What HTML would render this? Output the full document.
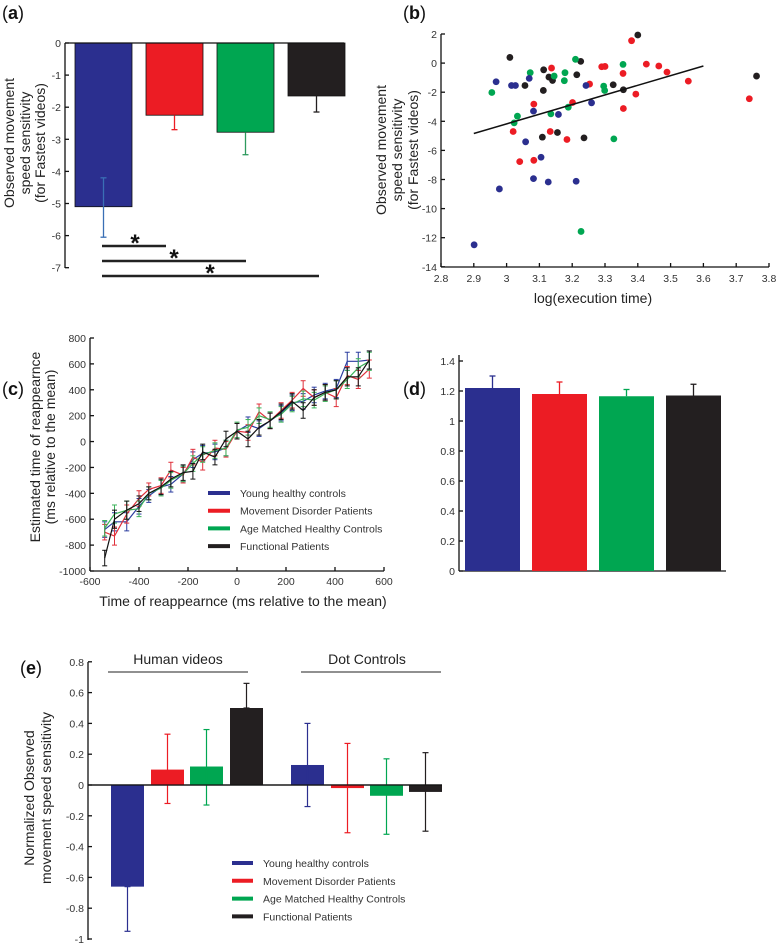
<!DOCTYPE html>
<html><head><meta charset="utf-8"><style>
body{margin:0;background:#fff}
svg{display:block;font-family:"Liberation Sans",sans-serif}
.tk{font-size:10.5px;fill:#333}
.tt{font-size:14px;fill:#222}
.pl{font-size:18px;fill:#111}
</style></head><body>
<svg id="fig" width="778" height="945" viewBox="0 0 778 945">
<text class="pl" x="2" y="19">(<tspan font-weight="bold">a</tspan>)</text>
<text class="pl" x="403" y="19">(<tspan font-weight="bold">b</tspan>)</text>
<text class="pl" x="2" y="395">(<tspan font-weight="bold">c</tspan>)</text>
<text class="pl" x="403" y="395">(<tspan font-weight="bold">d</tspan>)</text>
<text class="pl" x="20" y="674">(<tspan font-weight="bold">e</tspan>)</text>
<g id="ga"></g><g id="gb"></g><g id="gc"></g><g id="gd"></g><g id="ge"></g>
</svg>
<script>
const COLORS=['#2b2f8f','#ec1c24','#00a651','#231f20'];
const groupNames=['Young healthy controls','Movement Disorder Patients','Age Matched Healthy Controls','Functional Patients'];
// Panel a
const aValues=[-5.1,-2.25,-2.78,-1.65];
const aErrEnd=[-4.2,-2.7,-3.48,-2.15];
const aErrEnd2=[-6.05,null,null,null];
const aTicks=[0,-1,-2,-3,-4,-5,-6,-7];
// Panel b
const bBlackX=[3.01,3.40,3.113,3.226,3.129,3.14,3.056,3.112,3.214,3.325,3.356,3.762,3.109,3.155,3.236];
const bBlackY=[0.39,1.93,-0.46,0.12,-0.96,-1.19,-1.54,-1.88,-0.80,-1.49,-1.83,-0.89,-5.09,-4.77,-5.14];
const bRedX=[3.381,3.137,3.29,3.30,3.426,3.464,3.489,3.355,3.253,3.554,3.394,3.201,3.083,3.356,3.740,3.02,3.133,3.184,3.04,3.083];
const bRedY=[1.54,-0.34,-0.25,-0.23,-0.07,-0.20,-0.62,-0.71,-1.44,-1.24,-2.13,-2.71,-2.82,-3.12,-2.45,-4.70,-4.70,-5.25,-6.77,-6.68];
const bGreenX=[3.21,3.355,3.072,3.145,3.178,3.176,3.296,3.299,2.955,3.188,3.033,3.023,3.135,3.327,3.227];
const bGreenY=[0.26,-0.09,-0.66,-0.89,-0.66,-1.21,-1.58,-1.88,-2.02,-3.03,-3.65,-4.11,-3.49,-5.21,-11.57];
const bBlueX=[2.968,3.015,3.027,3.069,3.242,3.259,3.082,3.158,3.058,3.105,3.082,3.127,3.212,2.978,2.901];
const bBlueY=[-1.28,-1.54,-1.54,-1.05,-1.54,-2.73,-3.30,-3.53,-5.41,-6.47,-7.94,-8.17,-8.12,-8.65,-12.49];
const bFitX=[2.9,3.6];
const bFitY=[-4.84,-0.20];
const bXTicks=[2.8,2.9,3,3.1,3.2,3.3,3.4,3.5,3.6,3.7,3.8];
const bYTicks=[2,0,-2,-4,-6,-8,-10,-12,-14];
// Panel c
const cX=[-540,-500,-450,-400,-360,-310,-270,-220,-180,-140,-90,-45,0,45,90,135,180,225,270,315,360,405,450,495,540];
const cBlue=[-680,-620,-620,-500,-420,-350,-330,-250,-140,-90,-80,-50,80,130,100,160,220,300,310,360,390,410,620,620,630];
const cRed=[-700,-730,-560,-440,-370,-340,-220,-260,-120,-160,-50,-60,80,70,230,160,240,320,410,340,380,340,510,480,560];
const cGreen=[-670,-560,-530,-520,-400,-360,-300,-250,-170,-100,-70,-50,90,110,200,170,210,290,330,320,370,400,480,570,620];
const cBlack=[-900,-600,-530,-480,-400,-350,-290,-240,-230,-80,-120,20,80,20,110,160,230,310,240,340,380,400,500,500,630];
const cErr=[60,70,70,60,50,60,60,60,60,60,60,60,60,60,60,60,60,60,60,60,60,70,70,70,70];
const cXTicks=[-600,-400,-200,0,200,400,600];
const cYTicks=[800,600,400,200,0,-200,-400,-600,-800,-1000];
// Panel d
const dValues=[1.22,1.18,1.165,1.17];
const dErrTop=[1.30,1.26,1.21,1.245];
const dTicks=[0,0.2,0.4,0.6,0.8,1,1.2,1.4];
// Panel e
const eValues=[-0.66,0.1,0.12,0.5,0.13,-0.02,-0.07,-0.045];
const eErrHi=[-0.66,0.33,0.36,0.66,0.40,0.27,0.17,0.21];
const eErrLo=[-0.95,-0.12,-0.13,0.5,-0.14,-0.31,-0.32,-0.30];
const eTicks=[0.8,0.6,0.4,0.2,0,-0.2,-0.4,-0.6,-0.8,-1];
const eGroups=['Human videos','Dot Controls'];

const NS='http://www.w3.org/2000/svg';
function mk(par,tag,at,txt){const e=document.createElementNS(NS,tag);for(const k in at)e.setAttribute(k,at[k]);if(txt!==undefined)e.textContent=txt;par.appendChild(e);return e;}
function ln(g,x1,y1,x2,y2,c,w){return mk(g,'line',{x1,y1,x2,y2,stroke:c||'#111','stroke-width':w||1.3});}
function vlabel(g,lines,xs,cy,name){const gg=mk(g,'g',{});
lines.forEach((s,k)=>mk(gg,'text',{class:'tt',transform:'translate('+xs[k]+','+cy+') rotate(-90)','text-anchor':'middle'},s));}

// ---- Panel a
(function(){const g=document.getElementById('ga');
const y=v=>43+(0-v)*32.1;const bx=i=>75+i*71;const bw=57;
ln(g,65,43,65,268);
aTicks.forEach(t=>{ln(g,65,y(t),69,y(t));const tx=mk(g,'text',{class:'tk',x:61,y:y(t)+4,'text-anchor':'end'},String(t));});
aValues.forEach((v,i)=>{const r=mk(g,'rect',{x:bx(i),y:y(0),width:bw,height:y(v)-y(0),fill:COLORS[i],stroke:'#111','stroke-width':0.8});

const cx=bx(i)+bw/2;const ec=i==0?'#3a6fb5':(i==2?'#2e9a5e':COLORS[i]);
ln(g,cx,y(v),cx,y(aErrEnd[i]),ec,1.3);ln(g,cx-3,y(aErrEnd[i]),cx+3,y(aErrEnd[i]),ec,1.3);
if(aErrEnd2[i]!==null){ln(g,cx,y(v),cx,y(aErrEnd2[i]),ec,1.3);ln(g,cx-3,y(aErrEnd2[i]),cx+3,y(aErrEnd2[i]),ec,1.3);}});
ln(g,65,43,344,43,'#111',1.3);
[[166,246,135],[246,261,174],[319,276,210]].forEach((s,k)=>{const l=ln(g,102,s[1],s[0],s[1],'#222',2.5);
mk(g,'text',{x:s[2],y:s[1]+5,'font-size':'24px','font-weight':'bold','text-anchor':'middle',fill:'#111'},'*');});
vlabel(g,['Observed movement','speed sensitivity','(for Fastest videos)'],[14,30,45],143,'a-y-axis-title');
})();

// ---- Panel b
(function(){const g=document.getElementById('gb');
const x=v=>441+(v-2.8)*328;const y=v=>34+(2-v)*14.55;
ln(g,441,34,441,267);ln(g,441,267,769,267);
bXTicks.forEach(t=>{ln(g,x(t),267,x(t),263);const e=mk(g,'text',{class:'tk',x:x(t),y:282,'text-anchor':'middle'},String(t));});
bYTicks.forEach(t=>{ln(g,441,y(t),445,y(t));const e=mk(g,'text',{class:'tk',x:437,y:y(t)+4,'text-anchor':'end'},String(t));});
const sets=[[bBlackX,bBlackY,3],[bRedX,bRedY,1],[bGreenX,bGreenY,2],[bBlueX,bBlueY,0]];
sets.forEach(s=>s[0].forEach((xv,i)=>{const c=mk(g,'circle',{cx:x(xv),cy:y(s[1][i]),r:3.4,fill:COLORS[s[2]]});}));
const f=ln(g,x(bFitX[0]),y(bFitY[0]),x(bFitX[1]),y(bFitY[1]),'#111',1.5);
const xt=mk(g,'text',{class:'tt',x:593,y:303,'text-anchor':'middle'},'log(execution time)');
vlabel(g,['Observed movement','speed sensitivity','(for Fastest videos)'],[386,402,418],150,'b-y-axis-title');
})();

// ---- Panel c
(function(){const g=document.getElementById('gc');
const x=v=>90+(v+600)*294/1200;const y=v=>571-(v+1000)*233/1800;
ln(g,90,338,90,571);ln(g,90,571,384,571);
cXTicks.forEach(t=>{ln(g,x(t),571,x(t),567);const e=mk(g,'text',{class:'tk',x:x(t),y:585,'text-anchor':'middle'},String(t));});
cYTicks.forEach(t=>{ln(g,90,y(t),94,y(t));const e=mk(g,'text',{class:'tk',x:86,y:y(t)+4,'text-anchor':'end'},String(t));});
const ser=[[cBlue,0,'#2b3d9f'],[cRed,1,'#e0303a'],[cGreen,2,'#3cb35a'],[cBlack,3,'#111']];
ser.forEach(s=>{const pts=cX.map((xv,i)=>x(xv)+','+y(s[0][i])).join(' ');
s[0].forEach((v,i)=>{const cx=x(cX[i]);ln(g,cx,y(v-cErr[i]),cx,y(v+cErr[i]),s[2],1);ln(g,cx-2.5,y(v-cErr[i]),cx+2.5,y(v-cErr[i]),s[2],1);ln(g,cx-2.5,y(v+cErr[i]),cx+2.5,y(v+cErr[i]),s[2],1);});
const p=mk(g,'polyline',{points:pts,fill:'none',stroke:s[2],'stroke-width':1.2});});
groupNames.forEach((n,i)=>{const yy=493+i*17.7;const l=ln(g,208,yy,230,yy,COLORS[i],4);
const e=mk(g,'text',{x:240,y:yy+4,'font-size':'10.5px',fill:'#333'},n);});
const xt=mk(g,'text',{class:'tt',x:243,y:606,'text-anchor':'middle'},'Time of reappearnce (ms relative to the mean)');
vlabel(g,['Estimated time of reappearnce','(ms relative to the mean)'],[40,55],447,'c-y-axis-title');
})();

// ---- Panel d
(function(){const g=document.getElementById('gd');
const y=v=>571-v*150;const bx=i=>465+i*67;const bw=55;
ln(g,459,355,459,571);ln(g,459,571,726,571);
dTicks.forEach(t=>{ln(g,459,y(t),463,y(t));const e=mk(g,'text',{class:'tk',x:455,y:y(t)+4,'text-anchor':'end'},String(t));});
dValues.forEach((v,i)=>{const r=mk(g,'rect',{x:bx(i),y:y(v),width:bw,height:y(0)-y(v),fill:COLORS[i]});
const cx=bx(i)+bw/2;ln(g,cx,y(v),cx,y(dErrTop[i]),COLORS[i],1.3);ln(g,cx-3,y(dErrTop[i]),cx+3,y(dErrTop[i]),COLORS[i],1.3);});
})();

// ---- Panel e
(function(){const g=document.getElementById('ge');
const y=v=>785-v*154;const bxs=[111,151,190,230,291,331,370,409];const bw=33;
ln(g,88,662,88,940);ln(g,88,785,442,785);
eTicks.forEach(t=>{ln(g,88,y(t),92,y(t));const e=mk(g,'text',{class:'tk',x:84,y:y(t)+4,'text-anchor':'end'},String(t));});
eValues.forEach((v,i)=>{const top=Math.min(y(v),y(0)),h=Math.abs(y(v)-y(0));
const r=mk(g,'rect',{x:bxs[i],y:top,width:bw,height:h,fill:COLORS[i%4]});
const cx=bxs[i]+bw/2;const c=COLORS[i%4];
ln(g,cx,y(eErrLo[i]),cx,y(eErrHi[i]),c,1.2);ln(g,cx-3,y(eErrHi[i]),cx+3,y(eErrHi[i]),c,1.2);ln(g,cx-3,y(eErrLo[i]),cx+3,y(eErrLo[i]),c,1.2);});
ln(g,88,785,442,785,'#111',1.3);
[[108,248,178],[301,441,367]].forEach((s,k)=>{ln(g,s[0],672,s[1],672,'#222',1);const e=mk(g,'text',{class:'tt',x:s[2],y:664,'text-anchor':'middle'},eGroups[k]);});
groupNames.forEach((n,i)=>{const yy=863+i*17.8;const l=ln(g,232,yy,253,yy,COLORS[i],4);
const e=mk(g,'text',{x:263,y:yy+4,'font-size':'10.5px',fill:'#333'},n);});
vlabel(g,['Normalized Observed','movement speed sensitivity'],[34,51],798,'e-y-axis-title');
})();
</script>
</body></html>
